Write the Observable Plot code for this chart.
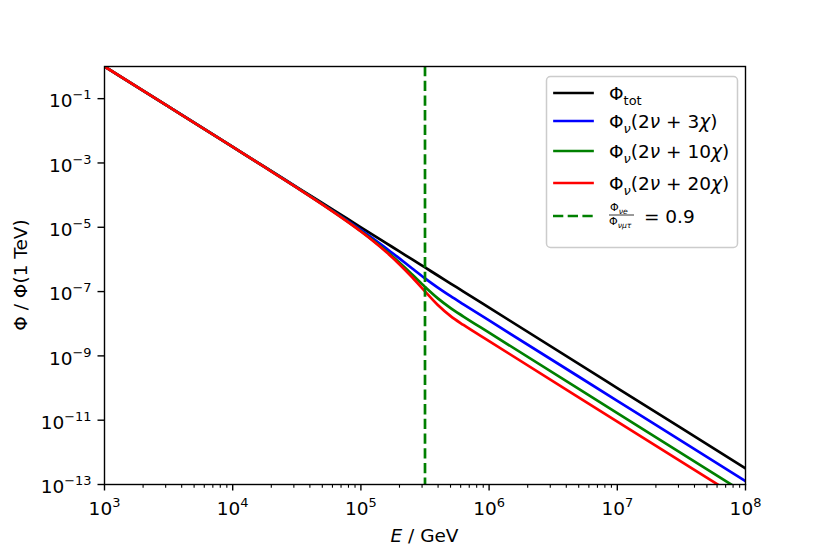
<!DOCTYPE html>
<html><head><meta charset="utf-8">
<script src="https://cdn.jsdelivr.net/npm/d3@7"></script>
<script src="https://cdn.jsdelivr.net/npm/@observablehq/plot@0.6"></script>
<style>body{margin:0;background:#fff;} #chart svg{font-family:"DejaVu Sans";}</style>
</head><body><div id="chart"></div>
<script>
// Energies (GeV) at which the curves were read
const energies = [1000, 3162, 10000, 17783, 31623, 56234, 79433, 100000, 125893, 158489, 199526, 251189, 316228, 398107, 501187, 630957, 1e6, 1e7, 1e8];
// Phi / Phi(1 TeV)
const phiTot   = [1, 0.05623, 3.162e-3, 7.499e-4, 1.778e-4, 4.217e-5, 1.778e-5, 1e-5, 5.623e-6, 3.162e-6, 1.778e-6, 1e-6, 5.623e-7, 3.162e-7, 1.778e-7, 1e-7, 3.162e-8, 1e-10, 3.162e-13];
const phi3chi  = [1, 0.05623, 3.148e-3, 7.413e-4, 1.726e-4, 3.903e-5, 1.555e-5, 8.26e-6, 4.291e-6, 2.174e-6, 1.074e-6, 5.236e-7, 2.582e-7, 1.328e-7, 7.186e-8, 4.004e-8, 1.265e-8, 4e-11, 1.265e-13];
const phi10chi = [1, 0.05623, 3.143e-3, 7.380e-4, 1.706e-4, 3.781e-5, 1.469e-5, 7.583e-6, 3.772e-6, 1.789e-6, 8.002e-7, 3.383e-7, 1.400e-7, 6.151e-8, 3.066e-8, 1.673e-8, 5.270e-9, 1.667e-11, 5.27e-14];
const phi20chi = [1, 0.05623, 3.141e-3, 7.369e-4, 1.699e-4, 3.742e-5, 1.440e-5, 7.364e-6, 3.604e-6, 1.665e-6, 7.097e-7, 2.782e-7, 1.015e-7, 3.836e-8, 1.729e-8, 9.15e-9, 2.875e-9, 9.09e-12, 2.875e-14];
// energy where Phi_nu_e / Phi_nu_mutau = 0.9
const ratioEnergy = [316228];

const seriesKeys = ["tot", "3chi", "10chi", "20chi"];
const seriesColors = ["black", "blue", "green", "red"];
const seriesValues = [phiTot, phi3chi, phi10chi, phi20chi];

const xTickValues = [1e3, 1e4, 1e5, 1e6, 1e7, 1e8];
const xTickLabels = ["10^3", "10^4", "10^5", "10^6", "10^7", "10^8"];
const yTickValues = [1e-1, 1e-3, 1e-5, 1e-7, 1e-9, 1e-11, 1e-13];
const yTickLabels = ["10^\u22121", "10^\u22123", "10^\u22125", "10^\u22127", "10^\u22129", "10^\u221211", "10^\u221213"];
const xMinorTicks = [];
for (let k = 3; k < 8; k++) for (let m = 2; m <= 9; m++) xMinorTicks.push(m * 10 ** k);

const rows = seriesKeys.flatMap((key, s) => energies.map((E, i) => ({E, phi: seriesValues[s][i], key})));

const FS = 18.5;
const plot = Plot.plot({
  width: 830, height: 554,
  marginLeft: 104, marginRight: 85, marginTop: 66, marginBottom: 70,
  style: {fontFamily: "DejaVu Sans", fontSize: FS + "px", background: "white", color: "black"},
  x: {type: "log", domain: [1e3, 1e8]},
  y: {type: "log", domain: [1e-13, 1]},
  color: {domain: seriesKeys, range: seriesColors},
  marks: [
    Plot.line(rows, {x: "E", y: "phi", z: "key", stroke: "key", strokeWidth: 2.7, strokeLinecap: "square", curve: "monotone-x", clip: true}),
    Plot.ruleX(ratioEnergy, {stroke: "green", strokeWidth: 2.7, strokeDasharray: "10.3,4.4"}),
    Plot.frame({stroke: "black", strokeWidth: 1.4}),
    Plot.axisX(xMinorTicks, {tickSize: 3.7, tickFormat: () => "", label: null, strokeWidth: 1.1}),
    Plot.axisX(xTickValues, {tickSize: 6.5, tickPadding: 6.5, strokeWidth: 1.4, label: null, fontSize: FS,
      tickFormat: (d) => xTickLabels[xTickValues.indexOf(d)]}),
    Plot.axisY(yTickValues, {tickSize: 6.5, tickPadding: 6.5, strokeWidth: 1.4, label: null, fontSize: FS,
      tickFormat: (d) => yTickLabels[yTickValues.indexOf(d)]})
  ]
});

document.getElementById("chart").appendChild(plot);
const NS = "http://www.w3.org/2000/svg";

// superscripts in tick labels
plot.querySelectorAll("text").forEach(t => {
  const s = t.textContent;
  if (!s.includes("^")) return;
  const g = t.closest("g[aria-label]");
  const isX = g && (g.getAttribute("aria-label") || "").startsWith("x");
  const [base, exp] = s.split("^");
  t.textContent = "";
  t.style.fontSize = FS + "px";
  const b = document.createElementNS(NS, "tspan");
  b.setAttribute("dy", isX ? "4.4" : "2.8");
  b.textContent = base;
  t.appendChild(b);
  const sup = document.createElementNS(NS, "tspan");
  sup.setAttribute("dy", "-8");
  sup.style.fontSize = (FS * 0.7) + "px";
  sup.textContent = exp;
  t.appendChild(sup);
});

const svg = d3.select(plot);

function richText(g, x, y, parts, size, attrs = {}) {
  const t = g.append("text").attr("x", x).attr("y", y).style("font-size", size + "px").attr("fill", "black")
    .attr("text-anchor", "start");
  for (const [k, v] of Object.entries(attrs)) t.attr(k, v);
  let shift = 0;
  for (const p of parts) {
    const ts = t.append("tspan").text(p.t);
    const target = p.sub ? size * 0.28 : 0;
    if (target !== shift) { ts.attr("dy", target - shift); shift = target; }
    if (p.sub) ts.style("font-size", (size * 0.7) + "px");
    if (p.it) ts.attr("font-style", "italic");
  }
  return t;
}

// axis labels
richText(svg, 424.5, 542, [{t: "E", it: true}, {t: " / GeV"}], FS, {"text-anchor": "middle"});
richText(svg, 0, 0, [{t: "\u03A6 / \u03A6(1 TeV)"}], FS, {"text-anchor": "middle", transform: "translate(27,275) rotate(-90)"});

// legend
const legendY = [93, 121, 151, 183];
const legendParts = [
  [{t: "\u03A6"}, {t: "tot", sub: true}],
  [{t: "\u03A6"}, {t: "\u03BD", sub: true, it: true}, {t: "(2"}, {t: "\u03BD", it: true}, {t: " + 3"}, {t: "\u03C7", it: true}, {t: ")"}],
  [{t: "\u03A6"}, {t: "\u03BD", sub: true, it: true}, {t: "(2"}, {t: "\u03BD", it: true}, {t: " + 10"}, {t: "\u03C7", it: true}, {t: ")"}],
  [{t: "\u03A6"}, {t: "\u03BD", sub: true, it: true}, {t: "(2"}, {t: "\u03BD", it: true}, {t: " + 20"}, {t: "\u03C7", it: true}, {t: ")"}]
];
const lg = svg.append("g").attr("font-family", "DejaVu Sans");
lg.append("rect").attr("x", 546.5).attr("y", 76.5).attr("width", 191).attr("height", 171).attr("rx", 4)
  .attr("fill", "white").attr("fill-opacity", 0.8).attr("stroke", "#cccccc").attr("stroke-width", 1.5);
legendY.forEach((y, i) => {
  lg.append("line").attr("x1", 554.5).attr("x2", 592.5).attr("y1", y).attr("y2", y)
    .attr("stroke", seriesColors[i]).attr("stroke-width", 2.7).attr("stroke-linecap", "square");
  richText(lg, 609, y + 6.5, legendParts[i], FS);
});
const fy = 216;
lg.append("line").attr("x1", 553).attr("x2", 594).attr("y1", fy).attr("y2", fy)
  .attr("stroke", "green").attr("stroke-width", 2.7).attr("stroke-dasharray", "10.3,4.4");
richText(lg, 610, fy - 5, [{t: "\u03A6"}, {t: "\u03BD", sub: true, it: true}, {t: "e", sub: true, it: true}], 11);
lg.append("line").attr("x1", 609).attr("x2", 634).attr("y1", fy - 1).attr("y2", fy - 1).attr("stroke", "black").attr("stroke-width", 0.8);
richText(lg, 609, fy + 9, [{t: "\u03A6"}, {t: "\u03BD", sub: true, it: true}, {t: "\u03BC\u03C4", sub: true, it: true}], 11);
richText(lg, 638, fy + 6.5, [{t: " = 0.9"}], FS);
</script>
</body></html>
